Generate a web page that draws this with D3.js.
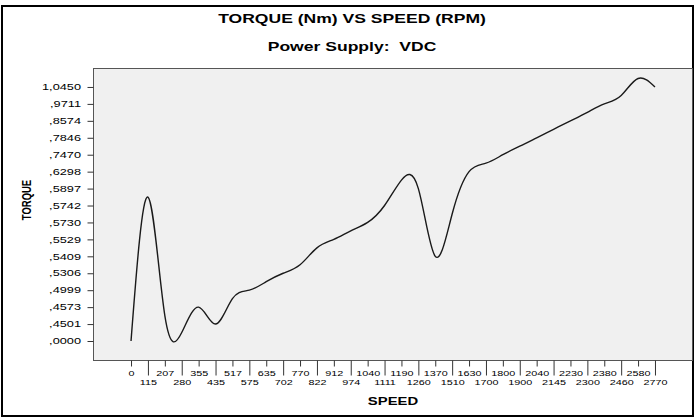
<!DOCTYPE html>
<html><head><meta charset="utf-8">
<script src="https://cdn.jsdelivr.net/npm/d3@7"></script>
<style>
body{margin:0;background:#fff;}
svg{display:block;font-family:"Liberation Sans",Arial,sans-serif;}
</style></head><body>
<svg id="chart" width="696" height="418"></svg>
<script>
// ---- data ----
const title = "TORQUE (Nm) VS SPEED (RPM)";
const subtitle = "Power Supply:  VDC";
const xTitle = "SPEED";
const yTitle = "TORQUE";
const speeds = [0,115,207,280,355,435,517,575,635,702,770,822,912,974,1040,1111,
                1190,1260,1370,1510,1630,1700,1800,1900,2040,2145,2230,2300,2380,2460,2580,2770];
const torque = [0.0000,0.5810,0.4530,0.4420,0.4573,0.4501,0.4810,0.4999,0.5180,0.5306,0.5370,0.5480,
                0.5529,0.5650,0.5730,0.5742,0.6100,0.5897,0.5409,0.5736,0.6298,0.6900,0.7470,0.7650,
                0.7846,0.8210,0.8574,0.9150,0.9711,1.0080,1.0620,1.0450];
const fmtTorque = v => d3.format(".4f")(v).replace(/^0/, "").replace(".", ",");

// ---- layout ----
const plot = {left:93, top:68, right:693, bottom:360};
const SX = 1.35;  // horizontal text stretch of the original export
const SY = 1.5;   // stretch of the torque labels

const svg = d3.select("#chart");
svg.append("rect").attr("x",2).attr("y",6).attr("width",691).attr("height",410)
  .attr("fill","#fff").attr("stroke","#000").attr("stroke-width",2);
svg.append("rect").attr("x",plot.left+0.5).attr("y",plot.top+0.5)
  .attr("width",plot.right-plot.left-1).attr("height",plot.bottom-plot.top)
  .attr("fill","#f0f0f0").attr("stroke","#555").attr("stroke-width",1);

const x = d3.scalePoint().domain(speeds.map(String))
  .range([plot.left, plot.right]).padding(2.25);
const yCats = Array.from(new Set(torque)).sort(d3.ascending);
const y = d3.scalePoint().domain(yCats).range([plot.bottom-19, plot.top+10.5]);

function sText(px, py, txt, size, weight, rot){
  const g = svg.append("g").attr("transform",`translate(${px},${py}) scale(${SX},1)` + (rot?` rotate(${rot})`:""));
  g.append("text").attr("text-anchor","middle").attr("font-size",size)
   .attr("font-weight",weight).attr("fill","#000").style("white-space","pre").text(txt);
}

// titles
sText(352, 23, title, 13, "bold");
sText(352, 51, subtitle, 13, "bold");
sText(393, 405, xTitle, 11, "bold");
sText(31, 200, yTitle, 9.5, "bold", -90);

// x axis
const gx = svg.append("g").attr("transform",`translate(0,${plot.bottom+0.5})`)
  .call(d3.axisBottom(x).tickSize(0).tickPadding(0));
gx.attr("font-family",null);
gx.select(".domain").remove();
gx.selectAll(".tick line").attr("y2",(d,i)=> i%2 ? 15 : 6).attr("stroke","#333");
gx.selectAll(".tick text").attr("dy",null).attr("y",(d,i)=> i%2 ? 25 : 16)
  .attr("transform",`scale(${SX},1)`).attr("font-size",8).attr("fill","#000");

// y axis
const gy = svg.append("g").attr("transform",`translate(${plot.left+0.5},0)`)
  .call(d3.axisLeft(y).tickValues(yCats.filter((d,i)=>i%2===0)).tickFormat(fmtTorque).tickSize(6));
gy.attr("font-family",null);
gy.select(".domain").remove();
gy.selectAll(".tick line").attr("stroke","#333");
gy.selectAll(".tick text").attr("x",-12.5/SY).attr("transform",`scale(${SY},1)`)
  .attr("font-size",8.5).attr("fill","#000");

// line
const line = d3.line().x((d,i)=>x(String(speeds[i]))).y(d=>y(d)).curve(d3.curveNatural);
svg.append("path").datum(torque).attr("d",line).attr("fill","none")
  .attr("stroke","#1a1a1a").attr("stroke-width",1.4);
</script>
</body></html>
